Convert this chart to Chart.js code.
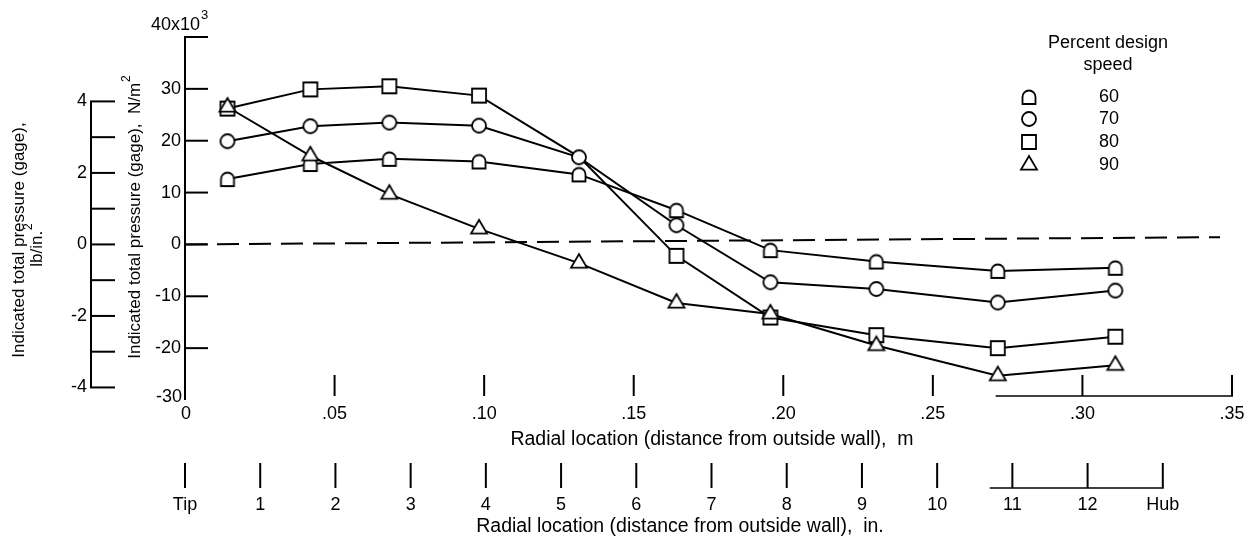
<!DOCTYPE html>
<html>
<head>
<meta charset="utf-8">
<title>Indicated total pressure vs radial location</title>
<script src="https://cdn.jsdelivr.net/npm/chart.js@4/dist/chart.umd.min.js"></script>
<style>
  html, body { margin: 0; padding: 0; background: #fff; }
  #wrap { width: 1250px; height: 540px; }
</style>
</head>
<body>
<div id="wrap"><canvas id="c" width="1250" height="540"></canvas></div>
<script>
// Radial measurement stations, distance from outside wall (m)
const radialLocationM = [0.0142, 0.0419, 0.0683, 0.0983, 0.1317, 0.1643, 0.1957, 0.2311, 0.2717, 0.311];

// Indicated total pressure (gage), N/m^2 x 10^3, per percent design speed
const pressure60 = [12.6, 15.5, 16.5, 16.0, 13.5, 6.6, -1.1, -3.3, -5.1, -4.5];
const pressure70 = [19.9, 22.8, 23.5, 22.9, 16.8, 3.7, -7.3, -8.6, -11.2, -8.9];
const pressure80 = [26.2, 29.9, 30.5, 28.7, 16.9, -2.2, -14.1, -17.5, -20.0, -17.8];
const pressure90 = [26.5, 17.1, 9.7, 3.0, -3.6, -11.3, -13.4, -19.5, -25.3, -23.3];

const speedLabels = ['60', '70', '80', '90'];

// Dashed reference line (end points, m and N/m^2 x 10^3)
const referenceX = [0, 0.346];
const referenceY = [0, 1.4];

// Axis ticks
const pascalTicks = [40, 30, 20, 10, 0, -10, -20, -30];
const pascalTickLabels = ['40x10', '30', '20', '10', '0', '-10', '-20', '-30'];
const psiTicks = [4, 3, 2, 1, 0, -1, -2, -3, -4];
const psiTickLabels = ['4', '', '2', '', '0', '', '-2', '', '-4'];
const metricTicks = [0, 0.05, 0.10, 0.15, 0.20, 0.25, 0.30, 0.35];
const metricTickLabels = ['0', '.05', '.10', '.15', '.20', '.25', '.30', '.35'];
const inchTicks = [0, 1, 2, 3, 4, 5, 6, 7, 8, 9, 10, 11, 12, 13];
const inchTickLabels = ['Tip', '1', '2', '3', '4', '5', '6', '7', '8', '9', '10', '11', '12', 'Hub'];

const KPA_PER_PSI = 6.89476;
const FONT = "'Liberation Sans', Arial, 'DejaVu Sans', sans-serif";
const font = (size) => `${size}px ${FONT}`;

// Open symbols drawn once onto small canvases and used as point styles
function makeMarker(kind) {
  const size = 24, m = size / 2;
  const c = document.createElement('canvas');
  c.width = size; c.height = size;
  const g = c.getContext('2d');
  g.lineWidth = 1.8;
  g.strokeStyle = '#000';
  g.fillStyle = '#fff';
  g.beginPath();
  if (kind === 'circle') {
    g.arc(m, m, 7, 0, Math.PI * 2);
  } else if (kind === 'square') {
    g.rect(m - 7, m - 7, 14, 14);
  } else if (kind === 'triangle') {
    g.moveTo(m, m - 9);
    g.lineTo(m + 8, m + 4.6);
    g.lineTo(m - 8, m + 4.6);
    g.closePath();
  } else if (kind === 'arch') {
    const r = 6.5;
    g.moveTo(m - r, m + 7);
    g.lineTo(m + r, m + 7);
    g.lineTo(m + r, m);
    g.arc(m, m, r, 0, Math.PI, true);
    g.closePath();
  }
  g.fill();
  g.stroke();
  return c;
}
const markers = [makeMarker('arch'), makeMarker('circle'), makeMarker('square'), makeMarker('triangle')];

const toPoints = (ys) => ys.map((v, i) => ({ x: radialLocationM[i], y: v }));

function seriesDataset(label, values, marker, order, extra) {
  return Object.assign({
    label: label,
    data: toPoints(values),
    showLine: true,
    borderColor: '#000',
    borderWidth: 2,
    pointStyle: marker,
    pointRadius: 8,
    pointBackgroundColor: '#fff',
    pointBorderColor: '#000',
    order: order
  }, extra || {});
}

function strokeLine(ctx, x1, y1, x2, y2) {
  ctx.beginPath();
  ctx.moveTo(x1, y1);
  ctx.lineTo(x2, y2);
  ctx.stroke();
}

function drawText(ctx, str, x, y, align, size) {
  ctx.font = font(size || 17);
  ctx.textAlign = align || 'center';
  ctx.textBaseline = 'middle';
  ctx.fillText(str, x, y);
}

// Rotated axis title with an optional superscript at its end
function rotatedTitle(ctx, main, sup, cx, cy) {
  ctx.save();
  ctx.translate(cx, cy);
  ctx.rotate(-Math.PI / 2);
  ctx.font = font(17);
  const w1 = ctx.measureText(main).width;
  ctx.font = font(12);
  const w2 = sup ? ctx.measureText(sup).width + 1 : 0;
  const start = -(w1 + w2) / 2;
  ctx.textAlign = 'left';
  ctx.textBaseline = 'middle';
  ctx.font = font(17);
  ctx.fillText(main, start, 0);
  if (sup) {
    ctx.font = font(12);
    ctx.fillText(sup, start + w1 + 1, -8);
  }
  ctx.restore();
}

const axesPlugin = {
  id: 'paperAxes',
  beforeDatasetsDraw(chart) {
    const { ctx } = chart;
    const { x, y, xin, ypsi } = chart.scales;
    ctx.save();
    ctx.strokeStyle = '#000';
    ctx.lineWidth = 2;

    // N/m^2 axis with inward ticks
    const ax = x.getPixelForValue(0);
    strokeLine(ctx, ax, y.getPixelForValue(40) - 1, ax, y.getPixelForValue(-30));
    pascalTicks.forEach((v) => {
      if (v > -30) {
        const py = y.getPixelForValue(v);
        strokeLine(ctx, ax - 1, py, ax + 23, py);
      }
    });

    // lb/in.^2 axis
    const psiX = 91;
    strokeLine(ctx, psiX, ypsi.getPixelForValue(4), psiX, ypsi.getPixelForValue(-4));
    psiTicks.forEach((v) => {
      const py = ypsi.getPixelForValue(v);
      strokeLine(ctx, psiX - 1, py, psiX + 24, py);
    });

    // metric radial scale: upright tick marks
    const mBase = y.getPixelForValue(-30) - 4;
    metricTicks.forEach((v) => {
      if (v > 0) {
        const px = x.getPixelForValue(v);
        strokeLine(ctx, px, mBase - 21, px, mBase);
      }
    });
    ctx.lineWidth = 1.5;
    strokeLine(ctx, x.getPixelForValue(0.271), mBase, x.getPixelForValue(0.35) + 1, mBase);

    // inch radial scale
    ctx.lineWidth = 2;
    const inBase = 488;
    inchTicks.forEach((v) => {
      const px = xin.getPixelForValue(v);
      strokeLine(ctx, px, inBase - 25, px, inBase);
    });
    ctx.lineWidth = 1.5;
    strokeLine(ctx, xin.getPixelForValue(10.7), inBase, xin.getPixelForValue(13) + 1, inBase);
    ctx.restore();
  },
  afterDraw(chart) {
    const { ctx } = chart;
    const { x, y, xin, ypsi } = chart.scales;
    ctx.save();
    ctx.fillStyle = '#000';

    // N/m^2 tick labels
    pascalTicks.forEach((v, i) => {
      const py = y.getPixelForValue(v);
      if (v === 40) {
        drawText(ctx, pascalTickLabels[i], 200, py - 12, 'right', 18);
        drawText(ctx, '3', 201, py - 22, 'left', 13);
      } else if (v === -30) {
        drawText(ctx, pascalTickLabels[i], 182, py - 3, 'right', 18);
      } else {
        drawText(ctx, pascalTickLabels[i], 181, py, 'right', 18);
      }
    });

    // lb/in.^2 tick labels
    psiTicks.forEach((v, i) => {
      if (psiTickLabels[i]) drawText(ctx, psiTickLabels[i], 87, ypsi.getPixelForValue(v), 'right', 18);
    });

    // metric labels and title
    metricTicks.forEach((v, i) => {
      drawText(ctx, metricTickLabels[i], x.getPixelForValue(v) + (i === 0 ? 1 : 0), 414, 'center', 18);
    });
    drawText(ctx, 'Radial location (distance from outside wall),  m', 712, 440, 'center', 19.5);

    // inch labels and title
    inchTicks.forEach((v, i) => {
      drawText(ctx, inchTickLabels[i], xin.getPixelForValue(v), 505, 'center', 18);
    });
    drawText(ctx, 'Radial location (distance from outside wall),  in.', 680, 527, 'center', 19.5);

    // vertical titles
    rotatedTitle(ctx, 'Indicated total pressure (gage),', '', 19, 240);
    rotatedTitle(ctx, 'lb/in.', '2', 37, 245);
    rotatedTitle(ctx, 'Indicated total pressure (gage),  N/m', '2', 135, 217);

    // key
    drawText(ctx, 'Percent design', 1108, 43, 'center', 18);
    drawText(ctx, 'speed', 1108, 65, 'center', 18);
    const rows = [97, 119, 142, 165];
    speedLabels.forEach((lab, i) => {
      const mk = markers[i];
      ctx.drawImage(mk, 1029 - mk.width / 2, rows[i] - mk.height / 2);
      drawText(ctx, lab, 1109, rows[i], 'center', 18);
    });
    ctx.restore();
  }
};

new Chart(document.getElementById('c'), {
  type: 'scatter',
  data: {
    datasets: [
      seriesDataset('60', pressure60, markers[0], 3),
      seriesDataset('70', pressure70, markers[1], 1),
      // at the fifth station the 80-percent reading falls under the 70-percent circle
      seriesDataset('80', pressure80, markers[2], 2, {
        pointRadius: (c) => (c.dataIndex === 4 ? 0 : 8)
      }),
      seriesDataset('90', pressure90, markers[3], 0),
      {
        label: 'zero',
        data: referenceX.map((v, i) => ({ x: v, y: referenceY[i] })),
        showLine: true,
        borderColor: '#000',
        borderWidth: 2,
        borderDash: [22, 10],
        pointRadius: 0,
        order: 9
      }
    ]
  },
  options: {
    responsive: false,
    animation: false,
    events: [],
    layout: { padding: { left: 185, right: 18, top: 37, bottom: 140 } },
    plugins: { legend: { display: false }, tooltip: { enabled: false } },
    elements: { line: { tension: 0 } },
    scales: {
      x: { type: 'linear', min: 0, max: 0.35, display: false },
      y: { type: 'linear', min: -30, max: 40, display: false },
      xin: { type: 'linear', axis: 'x', min: 0, max: 13.92, display: false },
      ypsi: { type: 'linear', axis: 'y', min: -30 / KPA_PER_PSI, max: 40 / KPA_PER_PSI, display: false }
    }
  },
  plugins: [axesPlugin]
});
</script>
</body>
</html>
